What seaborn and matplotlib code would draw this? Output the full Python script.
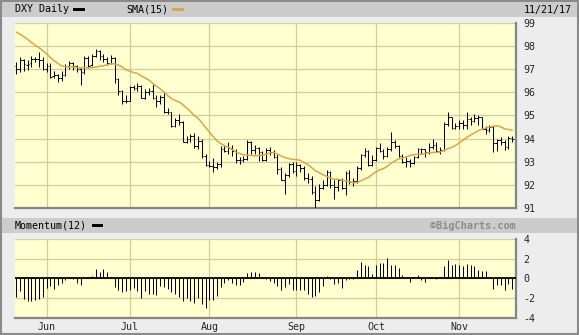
import matplotlib
matplotlib.use("Agg")
import matplotlib.pyplot as plt
import seaborn as sns
import numpy as np
from matplotlib.patches import Rectangle

# ---------------- data (DXY daily, May 22 - Nov 21, 2017) ----------------
opens = [97.13, 96.98, 97.37, 97.18, 97.24, 97.43, 97.43, 97.40,
         96.98, 97.15, 96.68, 96.74, 96.60, 96.75, 97.13, 97.25, 97.15, 96.99, 96.87, 97.47, 97.16, 97.55,
         97.77, 97.56, 97.45, 97.25, 97.46, 96.55, 96.04, 95.62,
         95.63, 96.24, 96.20, 96.26, 95.77, 96.01, 96.07, 95.74, 95.64, 95.80, 95.15, 95.13, 94.54, 94.80,
         94.72, 93.86, 94.00, 94.10, 93.66, 93.91, 93.25,
         92.86, 92.80, 92.79, 92.89, 93.54, 93.45, 93.61, 93.44, 93.06, 93.06, 93.12, 93.83, 93.49, 93.58,
         93.41, 93.09, 93.52, 93.40, 93.21, 92.69, 92.22, 92.42, 92.90,
         92.58, 92.84, 92.71, 92.30, 92.26, 91.70, 91.33, 91.87, 92.01, 92.55, 91.98, 91.89, 92.20, 91.86,
         92.53, 92.12, 92.17, 92.71, 93.30, 93.46, 92.87,
         93.08, 93.59, 93.47, 93.25, 93.53, 93.83, 93.68, 93.26, 92.99, 93.01, 92.95, 93.22, 93.55, 93.53,
         93.41, 93.63, 93.73, 93.45, 93.50, 94.61, 94.91, 94.45,
         94.55, 94.69, 94.60, 94.84, 94.76, 94.87, 94.95, 94.43, 94.38, 94.51, 93.82, 93.92, 93.83, 93.63,
         94.04]
highs = [97.32, 97.50, 97.44, 97.37, 97.57, 97.51, 97.72, 97.50,
         97.26, 97.25, 96.90, 96.78, 96.90, 97.20, 97.35, 97.30, 97.18, 97.05, 97.55, 97.55, 97.65, 97.87,
         97.80, 97.65, 97.50, 97.60, 97.50, 96.60, 96.10, 95.90,
         96.28, 96.30, 96.40, 96.30, 96.15, 96.20, 96.35, 95.90, 95.90, 96.00, 95.30, 95.15, 94.90, 95.05,
         94.75, 94.10, 94.20, 94.25, 94.10, 94.00, 93.35,
         93.05, 93.15, 93.00, 93.67, 93.70, 93.85, 93.70, 93.55, 93.20, 93.25, 93.95, 93.90, 93.70, 93.65,
         93.45, 93.60, 93.65, 93.50, 93.35, 92.75, 92.50, 92.95, 93.00,
         93.00, 92.88, 92.80, 92.50, 92.40, 91.95, 92.05, 92.20, 92.65, 92.60, 92.20, 92.25, 92.30, 92.60,
         92.65, 92.30, 92.80, 93.35, 93.60, 93.50, 93.30,
         93.65, 93.80, 93.55, 93.65, 94.27, 93.95, 93.72, 93.35, 93.20, 93.10, 93.25, 93.60, 93.60, 93.55,
         93.80, 94.00, 93.85, 93.65, 94.70, 95.15, 94.95, 94.65,
         94.80, 94.80, 95.15, 94.95, 95.05, 95.00, 94.95, 94.55, 94.60, 94.55, 94.00, 94.05, 93.95, 94.10,
         94.10]
lows = [96.80, 96.88, 96.90, 96.96, 97.07, 97.31, 97.10, 96.94,
        96.86, 96.60, 96.60, 96.44, 96.50, 96.70, 96.98, 96.95, 96.88, 96.32, 96.80, 97.05, 97.12, 97.50,
        97.40, 97.30, 97.18, 97.20, 96.40, 95.90, 95.48, 95.55,
        95.60, 96.10, 96.05, 95.75, 95.70, 95.90, 95.70, 95.35, 95.50, 95.10, 95.05, 94.48, 94.50, 94.60,
        93.85, 93.80, 93.85, 93.60, 93.55, 93.15, 92.80,
        92.75, 92.55, 92.70, 92.75, 93.40, 93.35, 93.25, 92.95, 92.90, 93.00, 93.08, 93.35, 93.35, 93.05,
        93.05, 93.05, 93.30, 93.15, 92.45, 92.20, 91.62, 92.35, 92.50,
        92.40, 92.55, 92.20, 92.10, 91.62, 91.01, 91.30, 91.80, 91.95, 91.85, 91.40, 91.75, 91.80, 91.55,
        92.05, 91.95, 92.10, 92.65, 93.20, 92.80, 92.80,
        93.05, 93.40, 93.10, 93.20, 93.45, 93.60, 93.20, 92.95, 92.75, 92.75, 92.90, 93.15, 93.35, 93.20,
        93.35, 93.55, 93.40, 93.35, 93.45, 94.55, 94.40, 94.40,
        94.40, 94.40, 94.40, 94.60, 94.70, 94.60, 94.40, 94.20, 94.30, 93.40, 93.45, 93.70, 93.50, 93.55,
        93.85]
closes = [96.98, 97.39, 97.20, 97.23, 97.43, 97.45, 97.40, 96.98,
          97.15, 96.65, 96.75, 96.60, 96.74, 97.13, 97.26, 97.15, 96.99, 96.87, 97.47, 97.14, 97.55, 97.77,
          97.56, 97.45, 97.25, 97.46, 96.55, 96.04, 95.62, 95.63,
          96.24, 96.20, 96.26, 95.77, 96.01, 96.07, 95.74, 95.64, 95.80, 95.15, 95.13, 94.54, 94.80, 94.72,
          93.86, 94.00, 94.10, 93.66, 93.91, 93.25, 92.86,
          92.80, 92.79, 92.89, 93.54, 93.45, 93.61, 93.44, 93.06, 93.06, 93.12, 93.83, 93.49, 93.58, 93.41,
          93.09, 93.52, 93.40, 93.21, 92.69, 92.22, 92.42, 92.90, 92.58,
          92.84, 92.71, 92.30, 92.26, 91.70, 91.33, 91.87, 92.01, 92.55, 91.98, 91.89, 92.20, 91.86, 92.53,
          92.12, 92.17, 92.71, 93.30, 93.46, 92.87, 93.08,
          93.59, 93.47, 93.25, 93.53, 93.83, 93.68, 93.26, 92.99, 93.01, 92.95, 93.22, 93.55, 93.53, 93.41,
          93.63, 93.73, 93.45, 93.50, 94.61, 94.91, 94.45, 94.55,
          94.69, 94.60, 94.84, 94.76, 94.87, 94.95, 94.43, 94.38, 94.51, 93.82, 93.92, 93.83, 93.63, 94.04,
          93.96]
sma15 = [98.60, 98.50, 98.40, 98.28, 98.15, 98.03, 97.92, 97.80,
         97.66, 97.50, 97.36, 97.24, 97.14, 97.10, 97.09, 97.10, 97.07, 97.05, 97.07, 97.05, 97.06, 97.08,
         97.12, 97.14, 97.18, 97.23, 97.22, 97.18, 97.08, 96.97,
         96.91, 96.85, 96.81, 96.70, 96.62, 96.53, 96.39, 96.26, 96.15, 96.01, 95.86, 95.72, 95.64, 95.58,
         95.46, 95.31, 95.17, 95.00, 94.88, 94.69, 94.48,
         94.28, 94.09, 93.90, 93.79, 93.68, 93.62, 93.53, 93.42, 93.36, 93.30, 93.29, 93.27, 93.25, 93.26,
         93.28, 93.33, 93.37, 93.39, 93.33, 93.25, 93.17, 93.13, 93.10,
         93.09, 93.06, 92.96, 92.88, 92.75, 92.61, 92.53, 92.43, 92.37, 92.29, 92.24, 92.24, 92.20, 92.17,
         92.14, 92.10, 92.10, 92.17, 92.25, 92.32, 92.44,
         92.56, 92.65, 92.70, 92.80, 92.93, 93.03, 93.12, 93.15, 93.21, 93.27, 93.30, 93.32, 93.32, 93.36,
         93.39, 93.40, 93.40, 93.42, 93.49, 93.56, 93.61, 93.70,
         93.81, 93.92, 94.05, 94.15, 94.24, 94.33, 94.40, 94.45, 94.50, 94.53, 94.55, 94.50, 94.42, 94.39,
         94.35]
momentum = [-1.86, -1.30, -2.10, -2.35, -2.28, -2.20, -2.10, -1.93,
            -0.98, -0.80, -1.12, -0.70, -0.46, -0.18, 0.10, -0.08, -0.46, -0.70, 0.05, 0.10, 0.28, 0.95,
            0.67, 0.98, 0.67, 0.18, -0.88, -1.23, -1.40, -1.30,
            -1.23, -0.95, -1.30, -2.00, -1.30, -1.58, -1.58, -1.65, -0.80, -0.88, -1.12, -1.40, -1.58, -1.86,
            -2.28, -2.00, -2.28, -2.46, -2.00, -2.63, -2.98,
            -2.20, -2.20, -1.75, -0.88, -0.46, -0.18, -0.46, -0.70, -0.70, -0.35, 0.53, 0.60, 0.60, 0.53,
            0.07, -0.05, -0.25, -0.46, -0.80, -1.23, -0.88, -0.60, -1.23,
            -1.16, -1.23, -1.16, -1.58, -1.93, -1.75, -1.40, -0.80, 0.25, -0.10, -0.60, -0.46, -0.95, -0.15,
            -0.10, -0.10, 0.88, 1.65, 1.40, 1.23, 0.46,
            1.40, 1.58, 1.58, 2.10, 1.40, 1.40, 1.05, 0.35, 0.05, -0.35, 0.18, 0.35, -0.18, -0.35,
            0.10, 0.05, -0.05, 0.00, 1.30, 1.86, 1.40, 1.47,
            1.40, 1.23, 1.50, 1.40, 1.23, 0.88, 0.70, 0.70, 0.00, -1.12, -0.70, -0.70, -1.16, -0.60,
            -1.12]
month_labels = ["Jun", "Jul", "Aug", "Sep", "Oct", "Nov"]
month_starts = [8, 30, 51, 74, 95, 117]
price_ticks = [91, 92, 93, 94, 95, 96, 97, 98, 99]
mom_ticks = [-4, -2, 0, 2, 4]
last_date = "11/21/17"

# ---------------- styling ----------------
sns.set_style("white")
plt.rcParams["font.family"] = ["DejaVu Sans Mono"]
plt.rcParams["axes.unicode_minus"] = False

W, H = 579, 335
BG = "#EDEDED"
BAR = "#CCCCCC"
PLOT_BG = "#FFFFCF"
GRID = "#CFCF9C"
SMA_C = "#DCA548"
FS = 7.2

fig = plt.figure(figsize=(W / 100, H / 100), dpi=100, facecolor=BG)


def fr(x0, y0, x1, y1):
    """pixel box -> figure fraction rect"""
    return [x0 / W, 1 - y1 / H, (x1 - x0) / W, (y1 - y0) / H]


def add_rect(x0, y0, x1, y1, color):
    l, b, w, h = fr(x0, y0, x1, y1)
    fig.add_artist(Rectangle((l, b), w, h, transform=fig.transFigure,
                             facecolor=color, edgecolor="none", zorder=0))


# outer frame
fig.add_artist(Rectangle((0.0015, 0.003), 0.997, 0.994, transform=fig.transFigure,
                         fill=False, edgecolor="#8A8A8A", lw=1.5, zorder=0))
# header bars
add_rect(2, 2, 577, 17, BAR)
add_rect(2, 218, 577, 233, BAR)


def ftext(x, y, s, size=FS, **kw):
    fig.text(x / W, 1 - y / H, s, va="center", fontsize=size, **kw)


ftext(15, 9.5, "DXY Daily", ha="left", color="black")
add_rect(73, 8, 85, 11, "black")
ftext(126, 9.5, "SMA(15)", ha="left", color="black")
add_rect(172, 8, 184, 11, SMA_C)
ftext(572, 9.5, last_date, ha="right", color="black")

ftext(15, 225.5, "Momentum(12)", ha="left", color="black")
add_rect(92, 224, 103, 227, "black")
ftext(516, 225.5, "\u00a9BigCharts.com", size=7.4, ha="right", color="#8C8C8C",
      fontweight="bold")

idx = np.arange(len(closes))

# ---------------- panels ----------------
ax1 = fig.add_axes(fr(14.7, 22.7, 516, 208))
ax2 = fig.add_axes(fr(14.7, 239, 516, 317.7))

for ax in (ax1, ax2):
    ax.set_facecolor(PLOT_BG)
    ax.set_xlim(-0.4, 132.0)
    for s in ("top", "left"):
        ax.spines[s].set_visible(False)
    for s in ("bottom", "right"):
        ax.spines[s].set_color("#858585")
        ax.spines[s].set_linewidth(1.6)
    ax.yaxis.tick_right()
    ax.tick_params(axis="y", length=0, pad=5.5, labelsize=FS)
    ax.tick_params(axis="x", length=0)
    ax.set_xticks(month_starts)
    ax.grid(True, color=GRID, lw=0.9)
    ax.set_axisbelow(True)

ax1.set_ylim(91, 99)
ax1.set_yticks(price_ticks)
ax1.set_xticklabels([])

opens_a = np.array(opens)
closes_a = np.array(closes)
segs = []
for coll in (
    ax1.vlines(idx, lows, highs, color="black", lw=0.72, zorder=3),
    ax1.hlines(opens_a, idx - 0.45, idx, color="black", lw=0.72, zorder=3),
    ax1.hlines(closes_a, idx, idx + 0.45, color="black", lw=0.72, zorder=3),
):
    coll.set_snap(True)
sns.lineplot(x=idx, y=sma15, ax=ax1, color=SMA_C, lw=1.1, zorder=4, legend=False)
ax1.set_xlabel("")
ax1.set_ylabel("")

ax2.set_ylim(-4, 4)
ax2.set_yticks(mom_ticks)
ax2.set_xticklabels(month_labels, fontsize=FS)
ax2.tick_params(axis="x", pad=3)
mc = ax2.vlines(idx, 0, momentum, color="black", lw=0.72, zorder=3)
mc.set_snap(True)
ax2.axhline(0, color="black", lw=1.3, zorder=3)
ax2.set_xlabel("")
ax2.set_ylabel("")

fig.savefig("out.png", dpi=100, facecolor=BG)
